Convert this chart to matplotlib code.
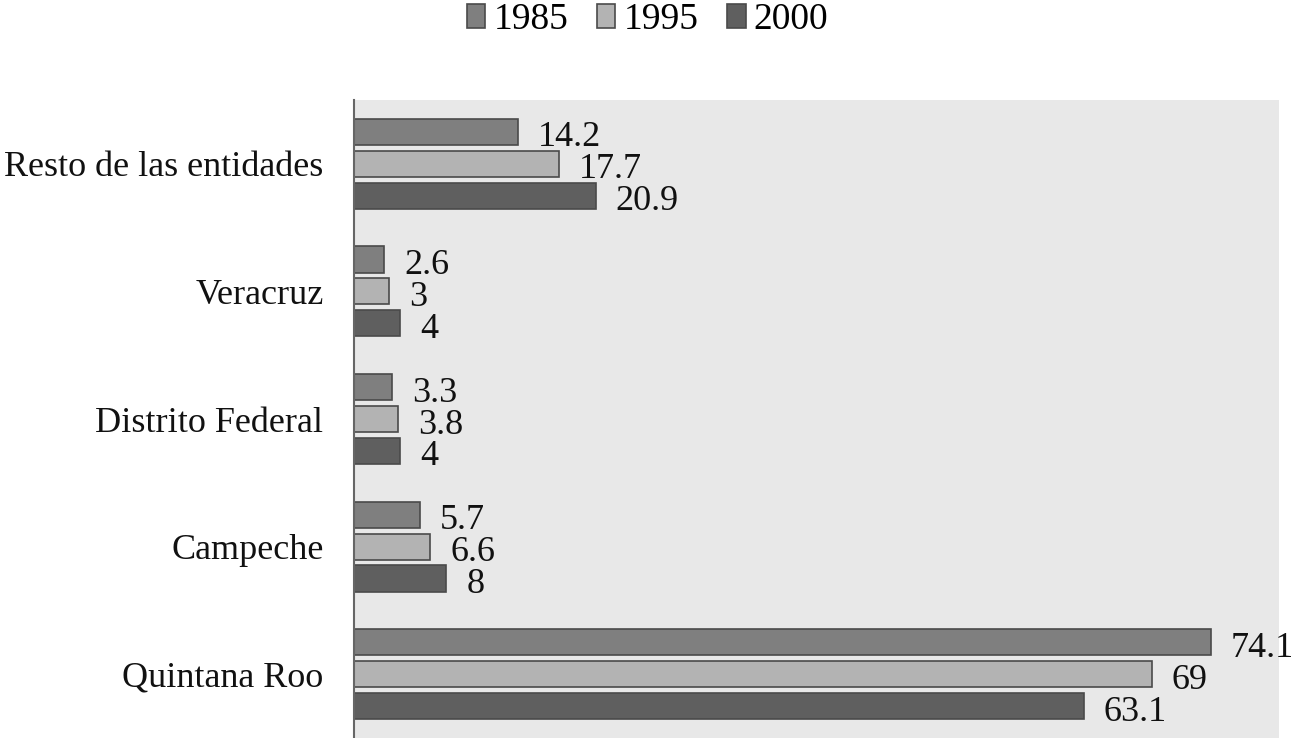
import matplotlib
matplotlib.use("Agg")
import matplotlib.pyplot as plt
import numpy as np
from matplotlib.patches import Patch

categories = ["Quintana Roo", "Campeche", "Distrito Federal", "Veracruz", "Resto de las entidades"]
series_names = ["1985", "1995", "2000"]
v1985 = [74.1, 5.7, 3.3, 2.6, 14.2]
v1995 = [69, 6.6, 3.8, 3, 17.7]
v2000 = [63.1, 8, 4, 4, 20.9]
value_labels_1985 = ["74.1", "5.7", "3.3", "2.6", "14.2"]
value_labels_1995 = ["69", "6.6", "3.8", "3", "17.7"]
value_labels_2000 = ["63.1", "8", "4", "4", "20.9"]

colors = ["#7f7f7f", "#b3b3b3", "#5f5f5f"]
edge = "#4a4a4a"
FONT = "Liberation Serif"
plt.rcParams["font.family"] = [FONT, "DejaVu Serif"]

fig = plt.figure(figsize=(12.95, 7.38), dpi=100)
ax = fig.add_axes([354/1295, 0.0, (1279-354)/1295, 1 - 100/738])
ax.set_facecolor("#e8e8e8")

y = np.arange(len(categories))
offsets = [0.25, 0.0, -0.25]
h = 0.205
all_vals = [v1985, v1995, v2000]
all_labels = [value_labels_1985, value_labels_1995, value_labels_2000]
for vals, labs, off, c, name in zip(all_vals, all_labels, offsets, colors, series_names):
    ax.barh(y + off, vals, height=h, color=c, edgecolor=edge, linewidth=1.2, label=name)
    for yi, v, lab in zip(y, vals, labs):
        ax.annotate(lab, xy=(v, yi + off), xytext=(20, -2), textcoords="offset pixels",
                    ha="left", va="center_baseline", fontsize=26, color="#111111")

ax.set_xlim(0, 80)
ax.set_ylim(-0.5, 4.5)
ax.set_yticks(y)
ax.set_yticklabels(categories, fontsize=26, color="#111111")
ax.tick_params(axis="y", length=0, pad=22)
ax.set_xticks([])
for s in ["top", "right", "bottom"]:
    ax.spines[s].set_visible(False)
ax.spines["left"].set_color("#666666")
ax.spines["left"].set_linewidth(1.5)

handles = [Patch(facecolor=c, edgecolor=edge, linewidth=1.2) for c in colors]
fig.legend(handles, series_names, loc="center", bbox_to_anchor=(0.5, 1 - 20/738), ncol=3,
           frameon=False, fontsize=27, handlelength=0.5, handleheight=0.6,
           handletextpad=0.22, columnspacing=0.75)

fig.savefig("out.png", dpi=100)
